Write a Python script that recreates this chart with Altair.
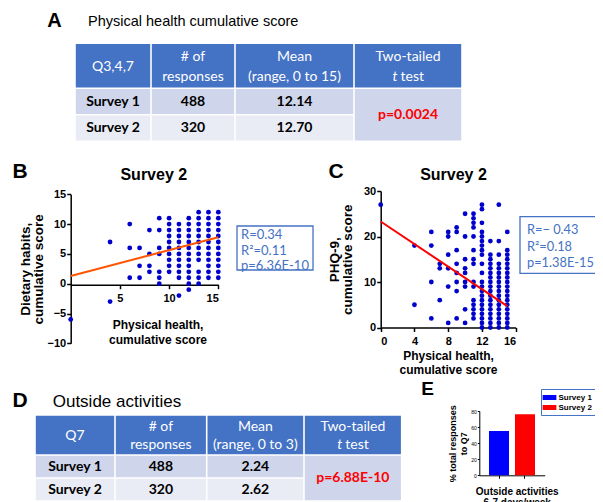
import altair as alt
import pandas as pd

# ---------------- data ----------------
A_LABEL = "A"
A_TITLE = "Physical health cumulative score"
A_HEADER = [["Q3,4,7"], ["# of", "responses"], ["Mean", "(range, 0 to 15)"], ["Two-tailed", "t test"]]
A_GROUPS = ["Survey 1", "Survey 2"]
A_RESPONSES = ["488", "320"]
A_MEANS = ["12.14", "12.70"]
A_PVALUE = "p=0.0024"

D_LABEL = "D"
D_TITLE = "Outside activities"
D_HEADER = [["Q7"], ["# of", "responses"], ["Mean", "(range, 0 to 3)"], ["Two-tailed", "t test"]]
D_GROUPS = ["Survey 1", "Survey 2"]
D_RESPONSES = ["488", "320"]
D_MEANS = ["2.24", "2.62"]
D_PVALUE = "p=6.88E-10"

B_LABEL = "B"
B_TITLE = "Survey 2"
B_POINTS = {
    0: [-6],
    4: [7, -3],
    6: [10, 6, 1],
    7: [6, 3, 1],
    8: [9, 5, 3, 2],
    9: [11, 9, 6, 5, 2, 1, 0],
    10: [11, 10, 9, 8, 7, 6, 5, 4, 3, 2],
    11: [10, 9, 8, 7, 6, 5, 4, 3, 2, 1, -2],
    12: [11, 10, 9, 8, 7, 6, 5, 4, 3, 2, 1, 0, -1],
    13: [12, 11, 10, 9, 8, 7, 6, 5, 4, 2, 1, 0],
    14: [12, 11, 10, 9, 8, 7, 6, 5, 4, 3, 2, 1],
    15: [12, 11, 10, 9, 8, 7, 6, 5, 4, 3, 2, 1],
}
B_FIT_X = [0, 15]
B_FIT_Y = [1.3, 7.8]
B_STATS = ["R=0.34", "R²=0.11", "p=6.36E-10"]
B_XTITLE = ["Physical health,", "cumulative score"]
B_YTITLE = ["Dietary habits,", "cumulative score"]
B_XTICKS = [5, 10, 15]
B_YTICKS = [-10, -5, 0, 5, 10, 15]

C_LABEL = "C"
C_TITLE = "Survey 2"
C_POINTS = {
    0: [27],
    4: [18, 5],
    6: [21, 18, 10, 2],
    7: [14, 13, 6],
    8: [21, 20, 16, 13, 9, 1],
    9: [22, 21, 17, 14, 12, 10, 8, 2],
    10: [25, 20, 15, 13, 12, 10, 9, 4, 1],
    11: [25, 24, 23, 22, 20, 17, 15, 14, 10, 9, 6, 5, 4, 3, 2],
    12: [27, 26, 23, 21, 20, 19, 18, 17, 16, 14, 12, 10, 9, 8, 7, 6, 5, 4, 3, 2, 1, 0],
    13: [19, 16, 15, 14, 13, 12, 11, 10, 9, 8, 7, 6, 5, 4, 3, 2, 1, 0],
    14: [27, 19, 16, 14, 13, 12, 11, 10, 9, 8, 7, 6, 5, 4, 3, 2, 1, 0],
    15: [21, 17, 16, 15, 14, 13, 12, 11, 10, 9, 8, 7, 6, 5, 4, 3, 2, 1, 0],
}
C_FIT_X = [0, 15]
C_FIT_Y = [23.3, 4.7]
C_STATS = ["R=− 0.43", "R²=0.18", "p=1.38E-15"]
C_XTITLE = ["Physical health,", "cumulative score"]
C_YTITLE = ["PHQ-9,", "cumulative score"]
C_XTICKS = [0, 4, 8, 12, 16]
C_YTICKS = [0, 10, 20, 30]

E_LABEL = "E"
E_GROUPS = ["Survey 1", "Survey 2"]
E_PERCENT = [55, 76]
E_XTITLE = ["Outside activities", "6-7 days/week"]
E_YTITLE = ["% total responses", "to Q7"]
E_YTICKS = [0, 20, 40, 60, 80]

# ---------------- style / layout ----------------
ARIAL = "Liberation Sans"
CALIBRI = "Lato"
HEAD_FILL = "#4472C4"
ROW_FILL = ["#CFD5EA", "#E9EBF5"]
P_RED = "#FF0000"
DOT = "#0000CC"
STAT_BLUE = "#4472C4"
E_COLORS = ["#0000FF", "#FF0000"]

MARGIN = 8
W, H = 587, 494


def px(v):
    return v - MARGIN


ONE = pd.DataFrame({"k": [0]})


def text_at(text, x, y, size, weight="bold", align="center", color="black",
            font=ARIAL, baseline="alphabetic", style="normal"):
    return alt.Chart(ONE).mark_text(
        text=text, fontSize=size, fontWeight=weight, align=align, baseline=baseline,
        color=color, font=font, fontStyle=style
    ).encode(x=alt.value(px(x)), y=alt.value(px(y)))


def box_at(x0, x1, y0, y1, color):
    return alt.Chart(ONE).mark_rect(fillOpacity=0, stroke=color, strokeWidth=1.3).encode(
        x=alt.value(px(x0)), x2=alt.value(px(x1)), y=alt.value(px(y0)), y2=alt.value(px(y1)))


def table(left, top, colw, rowh, header, groups, resp, means, pval, head_lh, fs):
    gx = [0]
    for w in colw:
        gx.append(gx[-1] + w)
    gy = [0]
    for h in rowh:
        gy.append(gy[-1] + h)
    TW, TH = gx[-1], gy[-1]
    g = 0.8
    cells = []
    for i in range(4):
        cells.append(dict(x0=gx[i] + g, x1=gx[i + 1] - g, y0=gy[0] + g, y1=gy[1] - g, fill=HEAD_FILL))
    for r in range(2):
        for i in range(3):
            cells.append(dict(x0=gx[i] + g, x1=gx[i + 1] - g, y0=gy[r + 1] + g, y1=gy[r + 2] - g,
                              fill=ROW_FILL[r]))
    cells.append(dict(x0=gx[3] + g, x1=gx[4] - g, y0=gy[1] + g, y1=gy[3] - g, fill=ROW_FILL[0]))

    xs = alt.Scale(domain=[0, TW], range=[px(left), px(left) + TW], nice=False, zero=False)
    ys = alt.Scale(domain=[0, TH], range=[px(top), px(top) + TH], nice=False, zero=False)

    rect = alt.Chart(pd.DataFrame(cells)).mark_rect().encode(
        x=alt.X("x0:Q", scale=xs, axis=None), x2="x1:Q",
        y=alt.Y("y0:Q", scale=ys, axis=None), y2="y1:Q",
        color=alt.Color("fill:N", scale=None))

    head_rows, ital_rows = [], []
    for i, lines in enumerate(header):
        n = len(lines)
        for j, line in enumerate(lines):
            ty = rowh[0] / 2 + (j - (n - 1) / 2) * head_lh + 1
            tx = (gx[i] + gx[i + 1]) / 2
            if line == "t test":
                ital_rows.append(dict(tx=tx, ty=ty))
            else:
                head_rows.append(dict(tx=tx, ty=ty, t=line))
    head = alt.Chart(pd.DataFrame(head_rows)).mark_text(
        font=CALIBRI, fontSize=fs, color="white", baseline="middle").encode(
        x=alt.X("tx:Q", scale=xs, axis=None), y=alt.Y("ty:Q", scale=ys, axis=None), text="t:N")
    ital_df = pd.DataFrame(ital_rows)
    ital_t = alt.Chart(ital_df).mark_text(
        text="t", font=CALIBRI, fontSize=fs, color="white", baseline="middle",
        fontStyle="italic", align="left", dx=-15.5).encode(
        x=alt.X("tx:Q", scale=xs, axis=None), y=alt.Y("ty:Q", scale=ys, axis=None))
    ital_rest = alt.Chart(ital_df).mark_text(
        text="test", font=CALIBRI, fontSize=fs, color="white", baseline="middle",
        align="left", dx=-7.5).encode(
        x=alt.X("tx:Q", scale=xs, axis=None), y=alt.Y("ty:Q", scale=ys, axis=None))

    body_rows = []
    for r in range(2):
        ty = (gy[r + 1] + gy[r + 2]) / 2
        for i, val in enumerate([groups[r], resp[r], means[r]]):
            body_rows.append(dict(tx=(gx[i] + gx[i + 1]) / 2, ty=ty, t=val))
    body = alt.Chart(pd.DataFrame(body_rows)).mark_text(
        font=CALIBRI, fontSize=fs, fontWeight="bold", color="black", baseline="middle").encode(
        x=alt.X("tx:Q", scale=xs, axis=None), y=alt.Y("ty:Q", scale=ys, axis=None), text="t:N")

    p_df = pd.DataFrame([dict(tx=(gx[3] + gx[4]) / 2, ty=(gy[1] + gy[3]) / 2, t=pval)])
    ptxt = alt.Chart(p_df).mark_text(
        font=CALIBRI, fontSize=fs, fontWeight="bold", color=P_RED, baseline="middle").encode(
        x=alt.X("tx:Q", scale=xs, axis=None), y=alt.Y("ty:Q", scale=ys, axis=None), text="t:N")

    return alt.layer(rect, head, ital_t, ital_rest, body, ptxt)


def scatter(points, fit_x, fit_y, line_color, xdom, ydom, xr, yr, xticks, yticks,
            x_axis_y, xtitle, ytitle, xtitle_x, xtitle_y, xtitle_lh, ytitle_pad):
    df = pd.DataFrame([(x, y) for x, ys in points.items() for y in ys], columns=["x", "y"])
    fit = pd.DataFrame({"x": fit_x, "y": fit_y})
    xs = alt.Scale(domain=xdom, range=[px(xr[0]), px(xr[1])], nice=False, zero=False)
    ys = alt.Scale(domain=ydom, range=[px(yr[0]), px(yr[1])], nice=False, zero=False)
    xaxis = alt.Axis(orient="bottom", offset=px(x_axis_y) - H, values=xticks, title=xtitle,
                     titleX=px(xtitle_x), titleY=xtitle_y, titleBaseline="top",
                     titleFontSize=12, titleLineHeight=xtitle_lh, labelPadding=4)
    yaxis = alt.Axis(orient="left", offset=-px(xr[0]), values=yticks, title=ytitle,
                     titleFontSize=13.5, titleLineHeight=12.5, titlePadding=ytitle_pad,
                     labelPadding=1)
    pts = alt.Chart(df).mark_circle(size=23, color=DOT, opacity=1).encode(
        x=alt.X("x:Q", scale=xs, axis=xaxis), y=alt.Y("y:Q", scale=ys, axis=yaxis))
    line = alt.Chart(fit).mark_line(color=line_color, strokeWidth=2).encode(
        x=alt.X("x:Q", scale=xs), y=alt.Y("y:Q", scale=ys))
    return alt.layer(pts, line)


# ---------------- panels ----------------
tabA = table(75, 43.3, [76, 84, 119, 108], [45, 26.5, 26.5], A_HEADER, A_GROUPS,
             A_RESPONSES, A_MEANS, A_PVALUE, 20, 14)
tabD = table(35, 415, [80, 91.7, 97.3, 97.7], [40, 23, 23], D_HEADER, D_GROUPS,
             D_RESPONSES, D_MEANS, D_PVALUE, 17.7, 14)

panelB = scatter(B_POINTS, B_FIT_X, B_FIT_Y, "#FF5500", [0, 15], [-10, 15],
                 (70.7, 218.3), (343.3, 194.3), B_XTICKS, B_YTICKS, 284.7,
                 B_XTITLE, B_YTITLE, 157.5, 35, 15, 2)
panelC = scatter(C_POINTS, C_FIT_X, C_FIT_Y, "#FF0000", [0, 16], [0, 30],
                 (380.7, 515.7), (327.5, 191), C_XTICKS, C_YTICKS, 327.5,
                 C_XTITLE, C_YTITLE, 448, 22.5, 14, 9)

dfE = pd.DataFrame({"group": E_GROUPS, "pct": E_PERCENT})
panelE = alt.Chart(dfE).mark_bar().encode(
    x=alt.X("group:N", sort=E_GROUPS,
            scale=alt.Scale(range=[px(479.3), px(544.7)], paddingInner=0.23, paddingOuter=0.373),
            axis=alt.Axis(orient="bottom", offset=px(475.3) - H, labels=False, tickSize=3,
                          tickWidth=1, domainWidth=1, title=E_XTITLE, titleFontSize=10,
                          titleLineHeight=11, titleX=px(516.7), titleY=11, titleBaseline="top")),
    y=alt.Y("pct:Q", scale=alt.Scale(domain=[0, 80], range=[px(475.3), px(411)], nice=False),
            axis=alt.Axis(orient="left", offset=-px(479.3), values=E_YTICKS, labelFontSize=5,
                          labelFontWeight="normal", tickSize=2, tickWidth=1, domainWidth=1,
                          labelPadding=1, title=E_YTITLE, titleFontSize=9,
                          titleLineHeight=11.5, titlePadding=2)),
    color=alt.Color("group:N", scale=alt.Scale(domain=E_GROUPS, range=E_COLORS),
                    legend=alt.Legend(orient="none", legendX=px(541), legendY=px(389),
                                      title=None, symbolType="M-1.25,-0.45H1.25V0.45H-1.25Z",
                                      symbolSize=121, symbolStrokeWidth=0, labelFont=ARIAL,
                                      labelFontSize=8, labelFontWeight="bold",
                                      labelColor="black", padding=3, rowPadding=0,
                                      strokeColor="#4472C4", fillColor="white",
                                      labelOffset=3.5)),
)

annotations = [
    text_at(A_LABEL, 54.5, 26.5, 20),
    text_at(A_TITLE, 88, 25.5, 14.5, weight="normal", align="left"),
    text_at(B_LABEL, 20, 178, 21),
    text_at(B_TITLE, 153.8, 179.5, 16),
    text_at(C_LABEL, 336, 178, 21),
    text_at(C_TITLE, 453.5, 179.5, 16),
    text_at(D_LABEL, 20, 407, 21),
    text_at(D_TITLE, 52.7, 407, 17, weight="normal", align="left"),
    text_at(E_LABEL, 427.5, 395, 19),
    box_at(237, 313, 226, 270, STAT_BLUE),
    box_at(520, 612, 216.7, 273.3, STAT_BLUE),
]
for txt, yy in zip(B_STATS, [235, 251, 265.5]):
    annotations.append(text_at(txt, 241, yy, 13, weight="normal", align="left",
                               color=STAT_BLUE, font=CALIBRI, baseline="middle"))
for txt, yy in zip(C_STATS, [230, 246.7, 263.3]):
    annotations.append(text_at(txt, 527, yy, 12.8, weight="normal", align="left",
                               color=STAT_BLUE, font=CALIBRI, baseline="middle"))

chart = alt.layer(tabA, tabD, panelB, panelC, panelE, *annotations).resolve_scale(
    x="independent", y="independent", color="independent"
).properties(
    width=W, height=H, padding=0, autosize=alt.AutoSizeParams(type="none")
).configure_view(stroke=None).configure_axis(
    grid=False, domainColor="black", domainWidth=1.5, tickColor="black", tickWidth=1.5,
    tickSize=4, labelFont=ARIAL, labelFontSize=11, labelFontWeight="bold",
    labelColor="black", titleFont=ARIAL, titleFontWeight="bold", titleColor="black"
)

chart.save("out.html", embed_options={"renderer": "svg", "actions": False})
